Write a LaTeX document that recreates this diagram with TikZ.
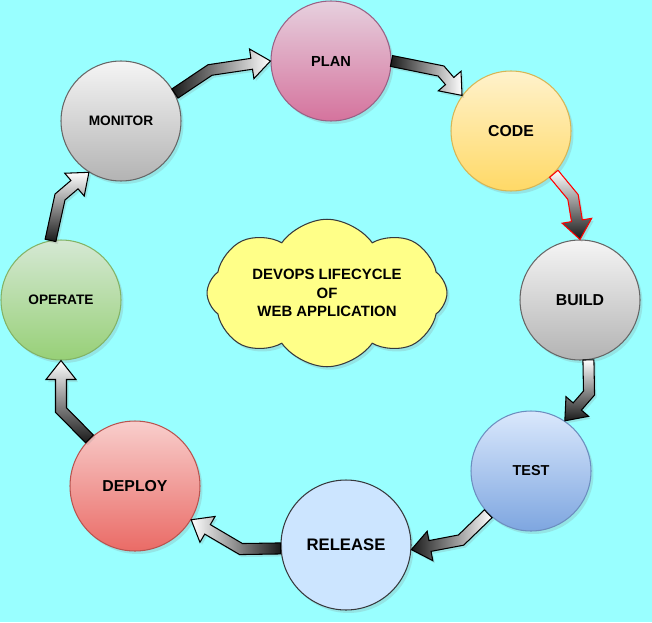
\documentclass[tikz,border=0pt]{standalone}
\usepackage{fontspec}
\setmainfont{Liberation Sans}
\usetikzlibrary{calc,shapes.symbols,shadows}

\definecolor{bgcyan}{HTML}{99FFFF}
\definecolor{planTop}{HTML}{E6D0DE}  \definecolor{planBot}{HTML}{D5739D}  \definecolor{planLine}{HTML}{996185}
\definecolor{codeTop}{HTML}{FFF2CC}  \definecolor{codeBot}{HTML}{FFD966}  \definecolor{codeLine}{HTML}{D6B656}
\definecolor{grayTop}{HTML}{F5F5F5}  \definecolor{grayBot}{HTML}{B3B3B3}  \definecolor{grayLine}{HTML}{666666}
\definecolor{testTop}{HTML}{DAE8FC}  \definecolor{testBot}{HTML}{7EA6E0}  \definecolor{testLine}{HTML}{6C8EBF}
\definecolor{relFill}{HTML}{CCE5FF}  \definecolor{darkLine}{HTML}{36393D}
\definecolor{depTop}{HTML}{F8CECC}   \definecolor{depBot}{HTML}{EA6B66}   \definecolor{depLine}{HTML}{B85450}
\definecolor{opTop}{HTML}{D5E8D4}    \definecolor{opBot}{HTML}{97D077}    \definecolor{opLine}{HTML}{82B366}
\definecolor{cloudFill}{HTML}{FFFF88}

\tikzset{
  stage/.style={circle, minimum size=2.4cm, inner sep=0pt, line width=0.6pt,
    drop shadow={shadow xshift=0.05cm, shadow yshift=-0.06cm, opacity=0.2}},
  blockarrow/.style={draw=black, line width=0.6pt, line join=miter,
    drop shadow={shadow xshift=0.04cm, shadow yshift=-0.05cm, opacity=0.2}},
}

% bent block arrow: tail, bend, tip
\newcommand{\flexarrow}[4][]{%
  \coordinate (at) at (#2);
  \coordinate (am) at (#3);
  \coordinate (ah) at (#4);
  \coordinate (ab) at ($(ah)!0.38cm!(am)$);
  \coordinate (al1) at ($(at)!0.11cm!90:(am)$);
  \coordinate (al2) at ($(am)!0.11cm!-90:(at)$);
  \coordinate (al3) at ($(am)!0.11cm!90:(ab)$);
  \coordinate (al4) at ($(ab)!0.11cm!-90:(am)$);
  \coordinate (ar1) at ($(at)!0.11cm!-90:(am)$);
  \coordinate (ar2) at ($(am)!0.11cm!90:(at)$);
  \coordinate (ar3) at ($(am)!0.11cm!-90:(ab)$);
  \coordinate (ar4) at ($(ab)!0.11cm!90:(am)$);
  \coordinate (ahl) at ($(ab)!0.3cm!-90:(am)$);
  \coordinate (ahr) at ($(ab)!0.3cm!90:(am)$);
  \path[blockarrow,#1] (al1) -- (intersection of al1--al2 and al3--al4) -- (al4) -- (ahl)
    -- (ah) -- (ahr) -- (ar4) -- (intersection of ar1--ar2 and ar3--ar4) -- (ar1) -- cycle;
}

\begin{document}
\begin{tikzpicture}[x=0.02cm, y=-0.02cm]
  \useasboundingbox (0,0) rectangle (652,622);
  \fill[bgcyan] (0,0) rectangle (652,622);

  % stages
  \node[stage, top color=planTop, bottom color=planBot, draw=planLine,
        font=\fontsize{8.3}{10}\selectfont\bfseries] (plan) at (331,61) {PLAN};
  \node[stage, top color=codeTop, bottom color=codeBot, draw=codeLine,
        font=\fontsize{9}{11}\selectfont\bfseries] (code) at (511,131) {CODE};
  \node[stage, top color=grayTop, bottom color=grayBot, draw=grayLine,
        font=\fontsize{9}{11}\selectfont\bfseries] (build) at (580,300) {BUILD};
  \node[stage, top color=testTop, bottom color=testBot, draw=testLine,
        font=\fontsize{8.2}{10}\selectfont\bfseries] (test) at (531,471) {TEST};
  \node[stage, minimum size=2.6cm, fill=relFill, draw=darkLine,
        font=\fontsize{9.5}{11}\selectfont\bfseries] (release) at (346,545) {RELEASE};
  \node[stage, minimum size=2.6cm, top color=depTop, bottom color=depBot, draw=depLine,
        font=\fontsize{9}{11}\selectfont\bfseries] (deploy) at (135,486) {DEPLOY};
  \node[stage, top color=opTop, bottom color=opBot, draw=opLine,
        font=\fontsize{7.8}{10}\selectfont\bfseries] (operate) at (61,300) {OPERATE};
  \node[stage, top color=grayTop, bottom color=grayBot, draw=grayLine,
        font=\fontsize{7.8}{10}\selectfont\bfseries] (monitor) at (121,121) {MONITOR};

  \node[cloud, cloud puffs=8, cloud puff arc=110, aspect=1.9, minimum width=4.8cm, minimum height=2.95cm,
        inner sep=0pt, fill=cloudFill, draw=darkLine, line width=0.6pt, align=center,
        font=\fontsize{8.5}{10.5}\selectfont\bfseries,
        drop shadow={shadow xshift=0.05cm, shadow yshift=-0.06cm, opacity=0.2}]
        (title) at (327,293) {DEVOPS LIFECYCLE\\OF\\WEB APPLICATION};

  % bends
  \coordinate (b1) at (210,70);
  \coordinate (b2) at (441,71);
  \coordinate (b3) at (573,197);
  \coordinate (b4) at (589,393);
  \coordinate (b5) at (461,540);
  \coordinate (b6) at (241,549);
  \coordinate (b7) at (61,410);
  \coordinate (b8) at (60,197);

  \flexarrow[left color=black!90, right color=white]{monitor.27}{b1}{plan.west}
  \flexarrow[left color=black!90, right color=white]{plan.east}{b2}{code.144}
  \flexarrow[top color=white, bottom color=black!90, draw=red]{code.-45}{b3}{build.north}
  \flexarrow[top color=white, bottom color=black!90]{build.-82}{b4}{test.56}
  \flexarrow[right color=white, left color=black!90]{test.225}{b5}{release.-4}
  \flexarrow[right color=black!90, left color=white]{release.183}{b6}{deploy.-31}
  \flexarrow[top color=white, bottom color=black!90]{deploy.134}{b7}{operate.south}
  \flexarrow[top color=white, bottom color=black!90]{operate.100}{b8}{monitor.238}
\end{tikzpicture}
\end{document}
